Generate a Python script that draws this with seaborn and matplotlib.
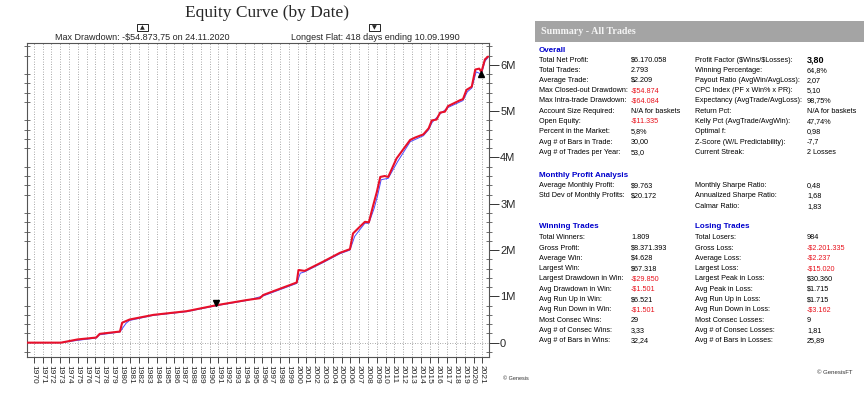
import matplotlib
matplotlib.use("Agg")
import matplotlib.pyplot as plt
from matplotlib.patches import Rectangle
from matplotlib.ticker import MultipleLocator, FixedLocator
import pandas as pd
import seaborn as sns

# Curva de equity cerrada (millones de $)
anios = [1969.2, 1973.1, 1975.0, 1977.1, 1977.5, 1979.8, 1980.05, 1980.9, 1983.6,
         1987.4, 1990.8, 1994.2, 1995.7, 1996.1, 1999.9, 2000.1, 2000.8, 2002.9,
         2004.8, 2005.95, 2006.3, 2007.65, 2008.1, 2008.6, 2009.0, 2009.4, 2009.9,
         2010.3, 2011.25, 2012.8, 2013.35, 2014.3, 2014.9, 2015.25, 2015.8, 2016.2,
         2016.75, 2017.1, 2018.5, 2018.8, 2019.2, 2019.8, 2020.2, 2020.65, 2020.9,
         2021.3, 2021.65]
equity = [0.0, 0.0, 0.07, 0.11, 0.19, 0.24, 0.43, 0.50, 0.60,
          0.68, 0.81, 0.92, 0.96, 1.03, 1.30, 1.57, 1.55, 1.75,
          1.94, 2.02, 2.36, 2.61, 2.60, 2.97, 3.25, 3.58, 3.60,
          3.58, 3.98, 4.38, 4.43, 4.50, 4.63, 4.80, 4.82, 4.97,
          4.99, 5.11, 5.24, 5.26, 5.46, 5.53, 5.90, 5.92, 5.85,
          6.12, 6.18]

# Equity abierta (linea azul fina)
anios_open = [1969.2, 1973.1, 1975.0, 1977.1, 1977.5, 1979.8, 1980.05, 1980.5, 1980.9,
              1983.6, 1987.4, 1990.8, 1994.2, 1996.1, 1999.9, 2000.3, 2000.8, 2002.9,
              2004.8, 2005.95, 2006.5, 2007.65, 2008.1, 2008.7, 2009.1, 2009.5, 2010.3,
              2011.4, 2012.8, 2014.3, 2014.9, 2015.3, 2016.2, 2017.1, 2018.8, 2019.3,
              2019.8, 2020.3, 2020.9, 2021.3, 2021.65]
equity_open = [0.0, 0.0, 0.05, 0.10, 0.17, 0.23, 0.30, 0.42, 0.48,
               0.59, 0.67, 0.80, 0.91, 1.01, 1.28, 1.50, 1.53, 1.73,
               1.92, 2.00, 2.30, 2.58, 2.58, 2.90, 3.18, 3.52, 3.55,
               3.92, 4.34, 4.47, 4.60, 4.76, 4.94, 5.08, 5.23, 5.42,
               5.50, 5.85, 5.80, 6.08, 6.16]

ticks_y = [0, 1, 2, 3, 4, 5, 6]
etiquetas_y = ["0", "1M", "2M", "3M", "4M", "5M", "6M"]
ticks_x = list(range(1970, 2022))

# Tabla resumen
overall = [
    ("Total Net Profit:", "$6.170.058", "Profit Factor ($Wins/$Losses):", "3,80"),
    ("Total Trades:", "2.793", "Winning Percentage:", "64,8%"),
    ("Average Trade:", "$2.209", "Payout Ratio (AvgWin/AvgLoss):", "2,07"),
    ("Max Closed-out Drawdown:", "-$54.874", "CPC Index (PF x Win% x PR):", "5,10"),
    ("Max Intra-trade Drawdown:", "-$64.084", "Expectancy (AvgTrade/AvgLoss):", "98,75%"),
    ("Account Size Required:", "N/A for baskets", "Return Pct:", "N/A for baskets"),
    ("Open Equity:", "-$11.335", "Kelly Pct (AvgTrade/AvgWin):", "47,74%"),
    ("Percent in the Market:", "5,8%", "Optimal f:", "0,98"),
    ("Avg # of Bars in Trade:", "30,00", "Z-Score (W/L Predictability):", "-7,7"),
    ("Avg # of Trades per Year:", "53,0", "Current Streak:", "2 Losses"),
]
mensual = [
    ("Average Monthly Profit:", "$9.763", "Monthly Sharpe Ratio:", "0,48"),
    ("Std Dev of Monthly Profits:", "$20.172", "Annualized Sharpe Ratio:", "1,68"),
    ("", "", "Calmar Ratio:", "1,83"),
]
trades = [
    ("Total Winners:", "1.809", "Total Losers:", "984"),
    ("Gross Profit:", "$8.371.393", "Gross Loss:", "-$2.201.335"),
    ("Average Win:", "$4.628", "Average Loss:", "-$2.237"),
    ("Largest Win:", "$67.318", "Largest Loss:", "-$15.020"),
    ("Largest Drawdown in Win:", "-$29.850", "Largest Peak in Loss:", "$30.360"),
    ("Avg Drawdown in Win:", "-$1.501", "Avg Peak in Loss:", "$1.715"),
    ("Avg Run Up in Win:", "$6.521", "Avg Run Up in Loss:", "$1.715"),
    ("Avg Run Down in Win:", "-$1.501", "Avg Run Down in Loss:", "-$3.162"),
    ("Most Consec Wins:", "29", "Most Consec Losses:", "9"),
    ("Avg # of Consec Wins:", "3,33", "Avg # of Consec Losses:", "1,81"),
    ("Avg # of Bars in Wins:", "32,24", "Avg # of Bars in Losses:", "25,89"),
]

sns.set_style("white")
plt.rcParams['font.family'] = ['Liberation Sans', 'DejaVu Sans']
plt.rcParams['text.parse_math'] = False

W, H = 864, 397
fig = plt.figure(figsize=(W / 100, H / 100), dpi=100)

def fx(px):
    return px / W

def fy(py):
    return 1 - py / H

ax = fig.add_axes([fx(26.7), fy(357), fx(489) - fx(26.7), fy(42.7) - fy(357)])

df_c = pd.DataFrame({"anio": anios, "equity": equity})
df_o = pd.DataFrame({"anio": anios_open, "equity": equity_open})

# grilla punteada
for a in ticks_x:
    ax.axvline(a, color="#8c8c8c", lw=0.6, ls=(0, (1, 2)), zorder=0)
ax.axhline(0, color="#8c8c8c", lw=0.6, ls=(0, (1, 2)), zorder=0)

sns.lineplot(data=df_o, x="anio", y="equity", color="#4a4aff", lw=0.7, ax=ax, zorder=2)
sns.lineplot(data=df_c, x="anio", y="equity", color="#e8102a", lw=1.5, ax=ax, zorder=3)

# marcadores de flat y drawdown
ax.plot([1990.75], [0.86], marker="v", color="black", ms=4.5, zorder=4)
ax.plot([2020.9], [5.80], marker="^", color="black", ms=4.5, zorder=4)

ax.set_xlim(1969.2, 2021.76)
ax.set_ylim(-0.31, 6.48)
ax.set_xlabel("")
ax.set_ylabel("")

ax.yaxis.set_major_locator(FixedLocator(ticks_y))
ax.set_yticklabels(etiquetas_y, fontsize=8)
ax.yaxis.set_minor_locator(MultipleLocator(0.2))
ax.tick_params(axis="y", which="major", direction="out", length=7, width=0.7, pad=1,
               left=False, right=True, labelleft=False, labelright=True, color="#333333")
ax.tick_params(axis="y", which="minor", direction="inout", length=4, width=0.6,
               right=True, left=True, color="#555555")

ax.xaxis.set_major_locator(FixedLocator(ticks_x))
ax.set_xticklabels([str(a) for a in ticks_x], rotation=-90, fontsize=6)
ax.tick_params(axis="x", which="major", direction="out", length=4, width=0.6, pad=2, bottom=True)

for s in ax.spines.values():
    s.set_color("#555555")
    s.set_linewidth(0.8)

# titulo y anotaciones
fig.text(fx(267), fy(13), "Equity Curve (by Date)", ha="center", va="center",
         fontsize=12.5, family="Liberation Serif")
fig.text(fx(142.5), fy(37.5), "Max Drawdown: -$54.873,75 on 24.11.2020", ha="center",
         va="center", fontsize=6.5)
fig.text(fx(375), fy(37.5), "Longest Flat: 418 days ending 10.09.1990", ha="center",
         va="center", fontsize=6.5)
caja = dict(boxstyle="square,pad=0.15", fc="white", ec="black", lw=0.6)
fig.text(fx(142.5), fy(27.5), " \u25b2 ", ha="center", va="center", fontsize=4.5,
         family="DejaVu Sans", bbox=caja)
fig.text(fx(374.5), fy(27.5), " \u25bc ", ha="center", va="center", fontsize=4.5,
         family="DejaVu Sans", bbox=caja)
fig.text(fx(503), fy(379), "\u00a9 Genesis", fontsize=4, va="center", color="#333333")

# panel resumen
fig.patches.append(Rectangle((fx(535), fy(42)), fx(864) - fx(535), fy(21) - fy(42),
                             transform=fig.transFigure, facecolor="#a4a4a4",
                             edgecolor="none", zorder=0))
fig.text(fx(541), fy(31.5), "Summary - All Trades", fontsize=7.2, weight="bold",
         family="Liberation Serif", color="#f4f4f4", va="center")

rojo = "#e8141e"
azul = "#0000cc"
col = [539, 631, 695, 807]
fs = 5.2


def fila(y, vals):
    for i, v in enumerate(vals):
        if not v:
            continue
        c = rojo if v.startswith("-$") else "black"
        w = "normal"
        size = fs
        if v == "3,80":
            w = "bold"
            size = 6.5
        fig.text(fx(col[i]), fy(y), v, fontsize=size, color=c, weight=w, va="center")


fig.text(fx(col[0]), fy(51), "Overall", fontsize=5.8, weight="bold", color=azul, va="center")
for k, r in enumerate(overall):
    fila(60 + k * 10.25, r)

fig.text(fx(col[0]), fy(175.7), "Monthly Profit Analysis", fontsize=5.8, weight="bold",
         color=azul, va="center")
for k, r in enumerate(mensual):
    fila(185.7 + k * 10.25, r)

fig.text(fx(col[0]), fy(227), "Winning Trades", fontsize=5.8, weight="bold", color=azul, va="center")
fig.text(fx(col[2]), fy(227), "Losing Trades", fontsize=5.8, weight="bold", color=azul, va="center")
for k, r in enumerate(trades):
    fila(237.7 + k * 10.3, r)

fig.text(fx(817), fy(372), "\u00a9 GenesisFT", fontsize=4.3, va="center", color="#333333")

fig.savefig("out.png", dpi=100)
